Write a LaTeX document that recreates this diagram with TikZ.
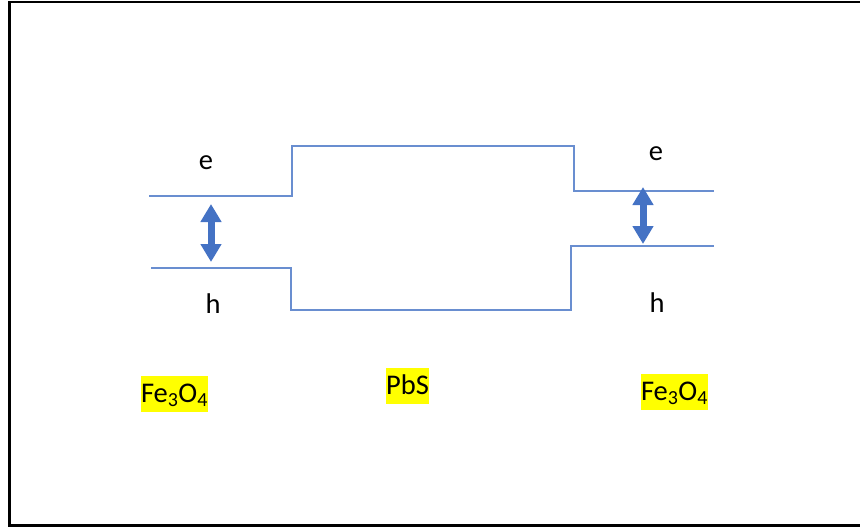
\documentclass[tikz,border=0pt]{standalone}
\usepackage{fontspec}
\setmainfont{Carlito}
\usepackage{tikz}
\usetikzlibrary{arrows.meta}
\definecolor{bandblue}{RGB}{68,114,196}
\definecolor{marker}{RGB}{255,255,0}

\begin{document}
\begin{tikzpicture}[
  x=1pt, y=-1pt,
  font=\fontsize{28.5}{33}\selectfont,
  band/.style={draw=bandblue!80, line width=1.3pt},
  gaparrow/.style={{Triangle[length=18pt,width=20pt]}-{Triangle[length=18pt,width=20pt]},
    draw=bandblue, line width=7pt},
  carrier/.style={anchor=base, inner sep=0pt},
  chem/.style={anchor=base, fill=marker, inner xsep=0.5pt, inner ysep=0pt,
    text height=26pt, text depth=10pt}
]
\useasboundingbox (0,0) rectangle (860,531);
\clip (0,0) rectangle (860,531);

% frame
\draw[line width=2.8pt] (9.5,2) rectangle (900,525.5);

% band edges
\draw[band] (149,196) -| (292,146) -| (574,191) -- (714,191);
\draw[band] (151,268) -| (291,310) -| (571,246) -- (714,246);

% gap arrows
\coordinate (gapLtop) at (211,204);
\coordinate (gapLbot) at (211,262);
\coordinate (gapRtop) at (643,187);
\coordinate (gapRbot) at (643,244);
\draw[gaparrow] (gapLtop) -- (gapLbot);
\draw[gaparrow] (gapRtop) -- (gapRbot);

% carriers
\node[carrier] (eL) at (206,169) {e};
\node[carrier] (hL) at (213,313) {h};
\node[carrier] (eR) at (656,160) {e};
\node[carrier] (hR) at (657,312) {h};

% materials
\node[chem] (feL) at (174.5,402) {Fe\textsubscript{3}O\textsubscript{4}};
\node[chem] (pbs) at (407.5,394) {PbS};
\node[chem] (feR) at (674.5,400) {Fe\textsubscript{3}O\textsubscript{4}};

\end{tikzpicture}
\end{document}
